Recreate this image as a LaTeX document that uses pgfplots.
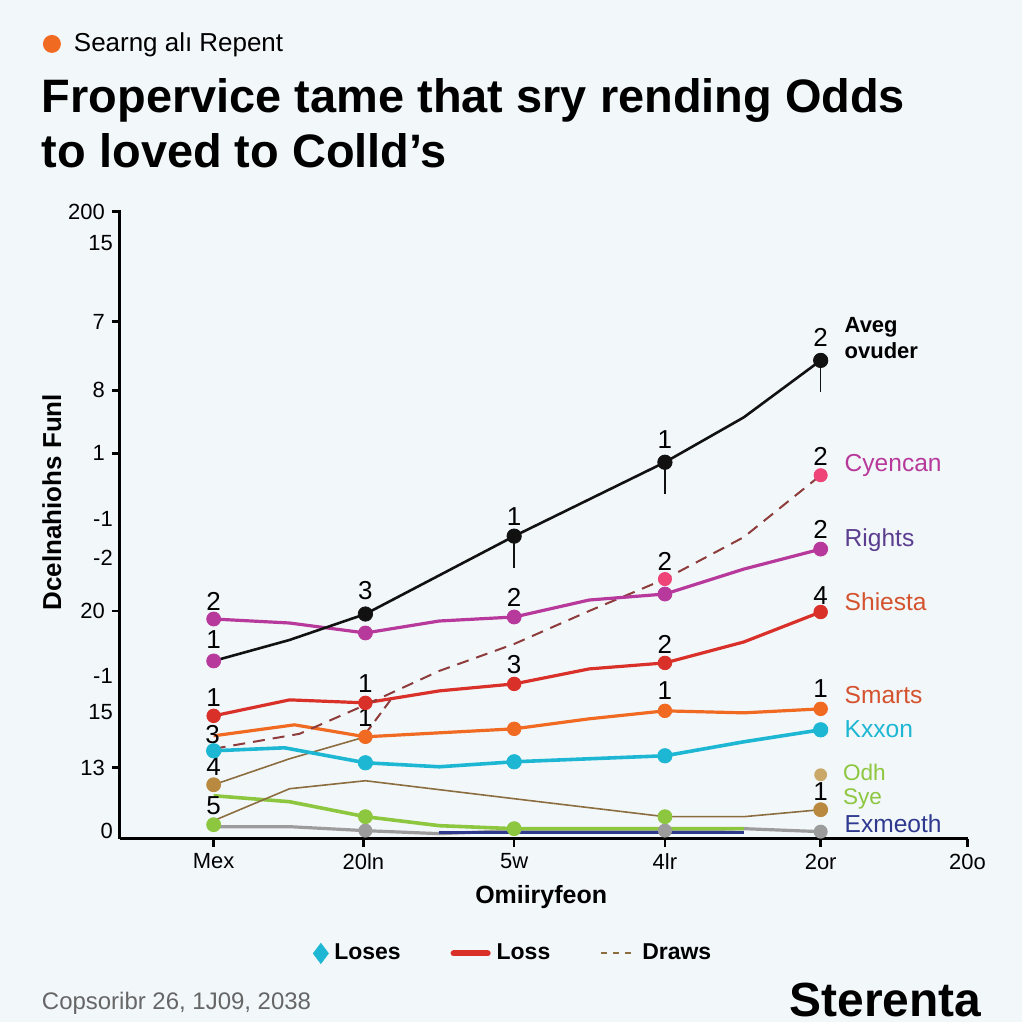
\documentclass[border=0pt]{standalone}
\usepackage{pgfplots}
\pgfplotsset{compat=1.18}
\usepackage{fontspec}
\setmainfont{Liberation Sans}

\definecolor{bg}{HTML}{F2F7FA}
\definecolor{cblack}{HTML}{111111}
\definecolor{cdash}{HTML}{8E3B3B}
\definecolor{cmag}{HTML}{B7399B}
\definecolor{cpink}{HTML}{EE4478}
\definecolor{cred}{HTML}{D9302A}
\definecolor{corange}{HTML}{F06A22}
\definecolor{ccyan}{HTML}{1DB7D3}
\definecolor{cbrown}{HTML}{8C6D3F}
\definecolor{ctan}{HTML}{C9A86A}
\definecolor{cbrdot}{HTML}{B8893E}
\definecolor{cgreen}{HTML}{8DC63F}
\definecolor{cgrey}{HTML}{9C9C9C}
\definecolor{cnavy}{HTML}{2F3A8F}
\definecolor{cpurple}{HTML}{5B3E90}
\definecolor{clabred}{HTML}{D4532E}
\definecolor{cfoot}{HTML}{666666}

\begin{document}
\begin{tikzpicture}[x=0.5pt,y=-0.5pt]
\fill[bg] (0,0) rectangle (1024,1024);

% header and title
\fill[corange] (52,44) circle (9);
\node[anchor=west,font=\fontsize{13}{14}\selectfont] at (67,45) {Searng alı Repent};
\node[anchor=west,font=\fontsize{23.5}{28}\selectfont\bfseries] at (35,101) {Fropervice tame that sry rending Odds};
\node[anchor=west,font=\fontsize{23.5}{28}\selectfont\bfseries] at (35,151) {to loved to Colld’s};

\begin{axis}[
    at={(60pt,-420pt)}, anchor=south west,
    scale only axis, width=425pt, height=315pt,
    xmin=120, xmax=970, ymin=0, ymax=630,
    axis lines=left,
    axis line style={-, line width=1.5pt, black},
    tick style={line width=1.3pt, black},
    tick align=outside,
    major tick length=4pt,
    xtick={214,364,515,666,822,969},
    xticklabels={Mex,20ln,5w,4lr,2or,20o},
    ytick={628,518,449,386,228,71},
    yticklabels={200,7,8,1,20,13},
    extra y ticks={597,320,281,163,127,8},
    extra y tick labels={15,-1,-2,-1,15,0},
    extra y tick style={major tick length=0pt},
    tick label style={font=\fontsize{11}{12}\selectfont},
    /pgf/number format/assume math mode=true,
    clip=false,
    legend style={at={(0.466,-0.1825)}, anchor=center, draw=none, fill=none,
        font=\fontsize{11.5}{13}\selectfont\bfseries, legend columns=3,
        nodes={inner xsep=3pt},
        /tikz/every even column/.append style={column sep=22pt}},
    legend cell align=left,
]

% legend images first
\addlegendimage{only marks, mark=diamond*, mark size=5pt, color=ccyan}
\addlegendentry{Loses}
\addlegendimage{line width=3pt, cred, line cap=round}
\addlegendentry{Loss}
\addlegendimage{dashed, cbrown, line width=1pt}
\addlegendentry{Draws}

% grey
\addplot[cgrey, line width=1.6pt, forget plot] coordinates {
 (214,12) (290,12) (366,8) (440,5) (515,8) (666,8) (745,10) (822,7)};
\addplot[only marks, mark=*, mark size=3.3pt, cgrey, forget plot] coordinates {
 (366,8) (666,8) (822,7)};
% navy
\addplot[cnavy, line width=1.2pt, forget plot] coordinates {(440,6) (745,6)};
% green
\addplot[cgreen, line width=1.8pt, forget plot] coordinates {
 (214,43) (290,37) (366,22) (440,13) (515,10) (666,10) (745,10)};
\addplot[only marks, mark=*, mark size=3.5pt, cgreen, forget plot] coordinates {
 (214,14) (366,22) (515,10) (666,22)};
% brown thin lines
\addplot[cbrown, line width=0.8pt, forget plot] coordinates {
 (214,54) (290,80) (366,102)};
\addplot[cbrown, line width=0.8pt, forget plot] coordinates {
 (214,18) (290,50) (366,58) (515,40) (666,22) (745,22) (822,29)};
\addplot[only marks, mark=*, mark size=3.5pt, cbrdot, forget plot] coordinates {
 (214,54) (822,29)};
\addplot[only marks, mark=*, mark size=3pt, ctan, forget plot] coordinates {(822,64)};
% cyan
\addplot[ccyan, line width=1.8pt, forget plot] coordinates {
 (214,88) (285,91) (366,76) (440,72) (515,77) (590,80) (666,83) (745,97) (822,109)};
\addplot[only marks, mark=*, mark size=3.6pt, ccyan, forget plot] coordinates {
 (214,88) (366,76) (515,77) (666,83) (822,109)};
% orange
\addplot[corange, line width=1.6pt, forget plot] coordinates {
 (214,103) (295,114) (366,102) (440,106) (515,110) (590,120) (666,128) (745,126) (822,130)};
\addplot[only marks, mark=*, mark size=3.4pt, corange, forget plot] coordinates {
 (366,102) (515,110) (666,128) (822,130)};
% red
\addplot[cred, line width=1.6pt, forget plot] coordinates {
 (214,123) (290,139) (366,136) (440,148) (515,155) (590,170) (666,176) (745,197) (822,227)};
\addplot[only marks, mark=*, mark size=3.4pt, cred, forget plot] coordinates {
 (214,123) (366,136) (515,155) (666,176) (822,227)};
% dashed
\addplot[cdash, line width=1pt, dash pattern=on 6pt off 4pt, forget plot] coordinates {
 (214,90) (300,105) (366,134) (440,168) (515,195) (590,228) (666,260) (745,302) (822,364)};
\addplot[cdash, line width=1pt, dash pattern=on 5pt off 3pt, forget plot] coordinates {
 (366,105) (392,140)};
\addplot[only marks, mark=*, mark size=3.3pt, cpink, forget plot] coordinates {
 (666,260) (822,364)};
% magenta
\addplot[cmag, line width=1.6pt, forget plot] coordinates {
 (214,220) (290,216) (366,206) (440,218) (515,222) (590,239) (666,245) (745,270) (822,290)};
\addplot[only marks, mark=*, mark size=3.5pt, cmag, forget plot] coordinates {
 (214,220) (366,206) (515,222) (666,245) (822,290) (214,178)};
% black
\addplot[cblack, line width=1.3pt, forget plot] coordinates {
 (214,178) (290,199) (366,225) (515,303) (666,377) (745,422) (822,479)};
\addplot[only marks, mark=*, mark size=3.6pt, cblack, forget plot,
   error bars/.cd, y dir=minus, y explicit, error mark=none,
   error bar style={line width=0.8pt, cblack}] coordinates {
 (366,225) +- (0,0) (515,303) +- (0,32) (666,377) +- (0,32) (822,479) +- (0,32)};

% point labels
\begin{scope}[font=\fontsize{13}{14}\selectfont]
\node at (axis cs:214,238) {2};
\node at (axis cs:214,199) {1};
\node at (axis cs:214,141) {1};
\node at (axis cs:213,104) {3};
\node at (axis cs:214,72) {4};
\node at (axis cs:214,33) {5};
\node at (axis cs:366,248) {3};
\node at (axis cs:366,155) {1};
\node at (axis cs:366,121) {1};
\node at (axis cs:515,323) {1};
\node at (axis cs:515,242) {2};
\node at (axis cs:515,174) {3};
\node at (axis cs:666,400) {1};
\node at (axis cs:666,278) {2};
\node at (axis cs:666,195) {2};
\node at (axis cs:666,148) {1};
\node at (axis cs:822,502) {2};
\node at (axis cs:822,383) {2};
\node at (axis cs:822,310) {2};
\node at (axis cs:822,243) {4};
\node at (axis cs:822,150) {1};
\node at (axis cs:822,47) {1};
\end{scope}
\end{axis}

% series labels at right
\node[anchor=west,font=\fontsize{11}{12}\selectfont\bfseries] at (839,328) {Aveg};
\node[anchor=west,font=\fontsize{11}{12}\selectfont\bfseries] at (839,351) {ovuder};
\begin{scope}[font=\fontsize{12.3}{13}\selectfont]
\node[anchor=west,text=cmag] at (839,466) {Cyencan};
\node[anchor=west,text=cpurple] at (839,541) {Rights};
\node[anchor=west,text=clabred] at (839,603) {Shiesta};
\node[anchor=west,text=clabred] at (839,696) {Smarts};
\node[anchor=west,text=ccyan] at (839,730) {Kxxon};
\node[anchor=west,text=cnavy] at (839,825) {Exmeoth};
\end{scope}
\node[anchor=west,text=cgreen,font=\fontsize{11.3}{12}\selectfont,inner sep=1pt] at (842,774) {Odh};
\node[anchor=west,text=cgreen,font=\fontsize{11.3}{12}\selectfont,inner sep=1pt] at (842,800) {Sye};

% axis titles
\node[rotate=90,font=\fontsize{13}{14}\selectfont\bfseries] at (52,503) {Dcelnahiohs Funl};
\node[font=\fontsize{12.5}{14}\selectfont\bfseries] at (542,898) {Omiiryfeon};

% footer
\node[anchor=west,text=cfoot,font=\fontsize{12}{13}\selectfont] at (35,1005) {Copsoribr 26, 1J09, 2038};
\node[anchor=east,font=\fontsize{24}{26}\selectfont\bfseries] at (990,1002) {Sterenta};
\end{tikzpicture}
\end{document}
